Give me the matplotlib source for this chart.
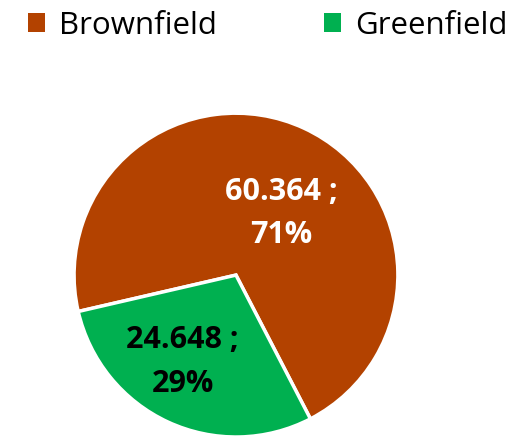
import matplotlib.pyplot as plt
from matplotlib.patches import Patch
plt.rcParams.update({'font.family': 'Open Sans'})

categories = ["Brownfield", "Greenfield"]
values = [60.364, 24.648]
percents = ["71%", "29%"]
colors = ["#B34200", "#00B050"]
label_colors = ["white", "black"]

fig = plt.figure(figsize=(5.31, 4.37), dpi=100)
ax = fig.add_axes([0.1394, 0.0, 0.610, 0.741])

wedges, _ = ax.pie(values, colors=colors, startangle=193, counterclock=False,
                   wedgeprops=dict(edgecolor="white", linewidth=2.5))
ax.set_xlim(-1, 1)
ax.set_ylim(-1, 1)
ax.set_aspect("equal")

# label positions inside slices (radius units)
label_pos = [(0.28, 0.38), (-0.33, -0.535)]
for (x, y), v, p, c in zip(label_pos, values, percents, label_colors):
    ax.text(x, y, f"{v:.3f} ;\n{p}", ha="center", va="center", color=c,
            fontsize=22, fontweight="bold", linespacing=1.6)

handles = [Patch(facecolor=c, edgecolor="none") for c in colors]
fig.legend(handles, categories, loc="upper left", bbox_to_anchor=(0.0, 1.04),
           ncol=2, frameon=False, fontsize=22.5, handlelength=0.55, handleheight=0.55,
           handletextpad=0.45, columnspacing=3.4)

fig.savefig("out.png", dpi=100)
